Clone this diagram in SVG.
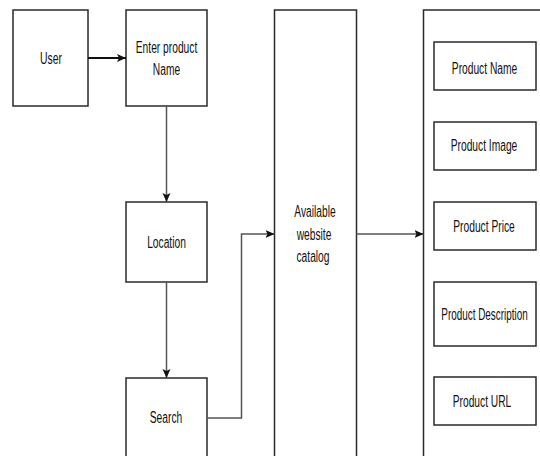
<svg xmlns="http://www.w3.org/2000/svg" width="540" height="456" viewBox="0 0 540 456">
<style>
.box{fill:#fff;stroke:#2a2a2a;stroke-width:1.5}
.t{font-family:"Liberation Sans",Arial,sans-serif;font-size:16px;fill:#111;text-anchor:middle}
.c{fill:none;stroke:#555;stroke-width:1.5}
</style>
<defs>
<marker id="ah" markerUnits="userSpaceOnUse" markerWidth="10" markerHeight="10" viewBox="0 0 10 10" refX="9" refY="5" orient="auto">
<path d="M0,1 L9,5 L0,9 L2,5 Z" fill="#111"/>
</marker>
</defs>
<rect width="540" height="456" fill="#fff"/>
<g id="user"><rect class="box" x="13" y="10" width="75" height="96"/><text class="t" transform="translate(51,64) scale(0.65,1)">User</text></g>
<g id="enter"><rect class="box" x="126" y="10" width="81" height="96"/><text class="t" transform="translate(166.5,53) scale(0.64,1)">Enter product</text><text class="t" transform="translate(166.5,75) scale(0.64,1)">Name</text></g>
<g id="location"><rect class="box" x="126" y="202" width="81" height="80"/><text class="t" transform="translate(166.5,248) scale(0.64,1)">Location</text></g>
<g id="search"><rect class="box" x="126" y="378" width="81" height="90"/><text class="t" transform="translate(166,423) scale(0.64,1)">Search</text></g>
<g id="catalog"><rect class="box" x="274.5" y="10" width="82" height="460"/><text class="t" transform="translate(315,217) scale(0.64,1)">Available</text><text class="t" transform="translate(314,240) scale(0.64,1)">website</text><text class="t" transform="translate(313,262) scale(0.64,1)">catalog</text></g>
<g id="details"><rect class="box" x="423.5" y="10" width="130" height="460"/></g>
<g id="pname"><rect class="box" x="434" y="42" width="102" height="48"/><text class="t" transform="translate(484.5,74) scale(0.64,1)">Product Name</text></g>
<g id="pimage"><rect class="box" x="434" y="122" width="102" height="48"/><text class="t" transform="translate(484,151) scale(0.64,1)">Product Image</text></g>
<g id="pprice"><rect class="box" x="434" y="202" width="102" height="48"/><text class="t" transform="translate(484,232) scale(0.64,1)">Product Price</text></g>
<g id="pdesc"><rect class="box" x="434" y="282" width="102" height="64"/><text class="t" transform="translate(484.5,320) scale(0.62,1)">Product Description</text></g>
<g id="purl"><rect class="box" x="434" y="377" width="102" height="48"/><text class="t" transform="translate(482,407) scale(0.64,1)">Product URL</text></g>
<g id="connectors">
<path d="M88,58 H126" fill="none" stroke="#111" stroke-width="2" marker-end="url(#ah)"/>
<path class="c" d="M166.5,106 V202" stroke="#888" marker-end="url(#ah)"/>
<path class="c" d="M166.5,282 V378" stroke="#888" marker-end="url(#ah)"/>
<path class="c" d="M207,418 H241.5 V234 H274.5" marker-end="url(#ah)"/>
<path class="c" d="M356.5,234 H423.5" stroke="#222" marker-end="url(#ah)"/>
</g>
</svg>
